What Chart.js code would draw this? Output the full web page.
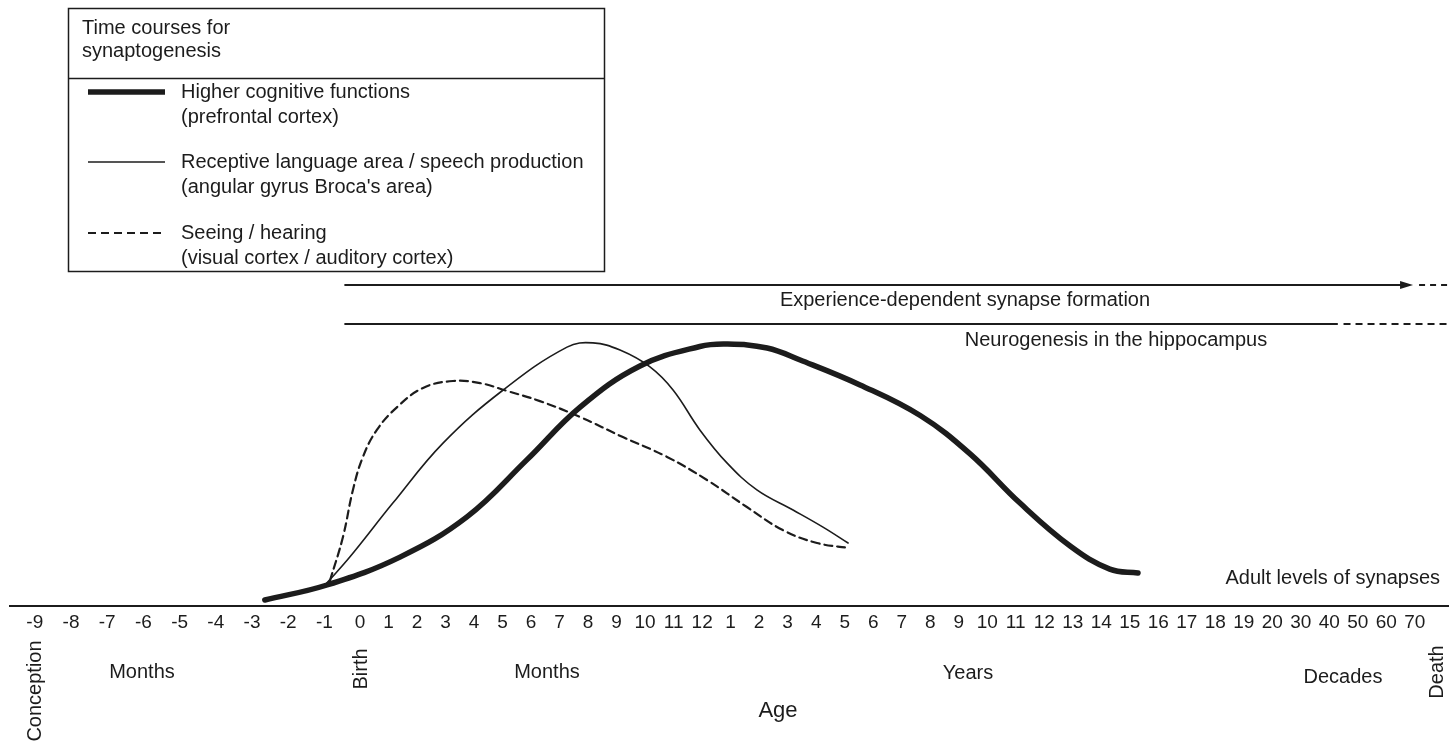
<!DOCTYPE html>
<html>
<head>
<meta charset="utf-8">
<script src="https://cdn.jsdelivr.net/npm/chart.js@4.4.1/dist/chart.umd.min.js"></script>
<style>
  html, body { margin: 0; background: #fff; }
  #wrap { position: relative; width: 1449px; height: 745px; }
</style>
</head>
<body>
<div id="wrap"><canvas id="chart"></canvas></div>
<script>
// x axis: 0 = birth, one unit per postnatal slot (months, years, decades),
// prenatal months sit a little wider apart like in the original figure
const tickPos = [-11.41, -10.14, -8.87, -7.6, -6.33, -5.06, -3.79, -2.52, -1.25,
  0, 1, 2, 3, 4, 5, 6, 7, 8, 9, 10, 11, 12,
  13, 14, 15, 16, 17, 18, 19, 20, 21, 22, 23, 24, 25, 26, 27, 28, 29, 30, 31, 32,
  33, 34, 35, 36, 37]
const tickLabels = ['-9', '-8', '-7', '-6', '-5', '-4', '-3', '-2', '-1',
  '0', '1', '2', '3', '4', '5', '6', '7', '8', '9', '10', '11', '12',
  '1', '2', '3', '4', '5', '6', '7', '8', '9', '10', '11', '12', '13', '14', '15', '16', '17', '18', '19', '20',
  '30', '40', '50', '60', '70']

// synapse density (arbitrary units, 0 = baseline)
const cognitiveX = [-3.34, -1.16, 1.4, 3.75, 5.85, 7.72, 9.82, 11.92, 12.87, 14.28, 15.44, 17.54, 19.65, 21.4, 23.15, 24.91, 26.3, 27.29]
const cognitiveY = [2, 7, 16.3, 29.7, 48.7, 66.3, 80, 86.5, 87.3, 86, 82, 73.7, 63.5, 50.7, 34.3, 20, 12.3, 11]

const languageX = [-1.16, -0.36, 1.15, 2.91, 5.02, 7.26, 8.17, 9.12, 10.17, 10.98, 11.92, 12.87, 13.92, 15.19, 16.24, 17.12]
const languageY = [7.7, 16.3, 34.3, 54.3, 72, 86.3, 87.7, 85.3, 79.7, 72, 58.7, 47.7, 38.7, 32, 26.3, 21]

const visionX = [-1.06, -0.6, -0.25, 0.1, 0.59, 1.3, 2.21, 3.26, 4.21, 5.15, 6.31, 7.72, 9.22, 10.77, 12.17, 13.57, 14.83, 16.03, 17.19]
const visionY = [8.3, 23, 38.7, 49.7, 58.7, 66.3, 72.7, 75, 74.3, 71.7, 68.3, 63, 56.3, 49.7, 42, 33, 25.3, 21, 19.3]

const seriesNames = ['Higher cognitive functions', 'Receptive language area / speech production', 'Seeing / hearing']
const seriesAreas = ['(prefrontal cortex)', "(angular gyrus Broca's area)", '(visual cortex / auditory cortex)']

// the two periods drawn above the curves
const experienceX = [-0.55, 36.8]
const experienceTailX = [37.15, 38.2]
const experienceLevel = 107
const neuroX = [-0.55, 34.3]
const neuroTailX = [34.5, 38.2]
const neuroLevel = 94

const INK = '#1c1c1c'
const FONT = '"Liberation Sans", Arial, sans-serif'

const zip = (xs, ys) => xs.map((x, i) => ({ x, y: ys[i] }))
const flat = (xs, level) => xs.map(x => ({ x, y: level }))

const curve = (label, xs, ys, width, dash) => ({
    label,
    data: zip(xs, ys),
    borderColor: INK,
    borderWidth: width,
    borderDash: dash,
    borderCapStyle: 'round',
    pointRadius: 0,
    tension: 0.4,
    fill: false
})
const bar = (xs, level, dash) => ({
    data: flat(xs, level),
    borderColor: INK,
    borderWidth: 2.2,
    borderDash: dash,
    pointRadius: 0,
    fill: false
})

const annotations = {
    id: 'annotations',
    afterDraw(chart) {
        const { ctx, scales: { x, y } } = chart
        ctx.save()
        ctx.fillStyle = INK
        ctx.strokeStyle = INK

        // arrow head at the end of the experience line
        const ax = x.getPixelForValue(experienceX[1])
        const ay = y.getPixelForValue(experienceLevel)
        ctx.beginPath()
        ctx.moveTo(ax + 4, ay)
        ctx.lineTo(ax - 9, ay - 4)
        ctx.lineTo(ax - 9, ay + 4)
        ctx.closePath()
        ctx.fill()

        ctx.font = '20px ' + FONT
        ctx.textBaseline = 'middle'
        ctx.textAlign = 'center'
        ctx.fillText('Experience-dependent synapse formation', 965, 300)
        ctx.fillText('Neurogenesis in the hippocampus', 1116, 340)
        ctx.textAlign = 'right'
        ctx.fillText('Adult levels of synapses', 1440, 578)

        // labels under the age axis
        ctx.textAlign = 'center'
        ctx.fillText('Months', 142, 672)
        ctx.fillText('Months', 547, 672)
        ctx.fillText('Years', 968, 673)
        ctx.fillText('Decades', 1343, 677)
        const vertical = (text, px, py) => {
            ctx.save()
            ctx.translate(px, py)
            ctx.rotate(-Math.PI / 2)
            ctx.fillText(text, 0, 0)
            ctx.restore()
        }
        vertical('Conception', 35, 691)
        vertical('Birth', 361, 669)
        vertical('Death', 1437, 672)
        ctx.font = '22px ' + FONT
        ctx.fillText('Age', 778, 711)

        // legend box
        ctx.font = '20px ' + FONT
        ctx.lineWidth = 1.5
        ctx.setLineDash([])
        ctx.strokeRect(68.5, 8.5, 536, 263)
        ctx.beginPath()
        ctx.moveTo(68, 78.5)
        ctx.lineTo(604, 78.5)
        ctx.stroke()
        ctx.textAlign = 'left'
        ctx.fillText('Time courses for', 82, 28)
        ctx.fillText('synaptogenesis', 82, 51)
        const rows = [92, 162, 233]
        chart.data.datasets.slice(0, 3).forEach((ds, i) => {
            const ry = rows[i]
            ctx.lineWidth = ds.borderWidth
            ctx.setLineDash(ds.borderDash || [])
            ctx.beginPath()
            ctx.moveTo(88, ry)
            ctx.lineTo(165, ry)
            ctx.stroke()
            ctx.fillText(seriesNames[i], 181, ry)
            ctx.fillText(seriesAreas[i], 181, ry + 25)
        })
        ctx.restore()
    }
}

new Chart(document.getElementById('chart'), {
    type: 'line',
    data: {
        datasets: [
            curve(seriesNames[0], cognitiveX, cognitiveY, 5.5, []),
            curve(seriesNames[1], languageX, languageY, 1.6, []),
            curve(seriesNames[2], visionX, visionY, 2.2, [8, 5]),
            bar(experienceX, experienceLevel, []),
            bar(experienceTailX, experienceLevel, [6, 5]),
            bar(neuroX, neuroLevel, []),
            bar(neuroTailX, neuroLevel, [7, 5])
        ]
    },
    options: {
        responsive: true,
        maintainAspectRatio: false,
        animation: false,
        layout: { padding: { top: 276, left: 10, right: 0, bottom: 0 } },
        plugins: { legend: { display: false }, tooltip: { enabled: false } },
        scales: {
            x: {
                type: 'linear',
                min: -12.28,
                max: 38.2,
                afterBuildTicks: scale => { scale.ticks = tickPos.map(value => ({ value })) },
                afterFit: scale => { scale.height = 139 },
                grid: { display: false, drawTicks: false },
                border: { display: true, color: INK, width: 2 },
                ticks: {
                    autoSkip: false,
                    maxRotation: 0,
                    padding: 5,
                    color: INK,
                    font: { family: FONT, size: 19 },
                    callback: (value, index) => tickLabels[index]
                }
            },
            y: { display: false, min: 0, max: 110 }
        }
    },
    plugins: [annotations]
})
</script>
</body>
</html>
